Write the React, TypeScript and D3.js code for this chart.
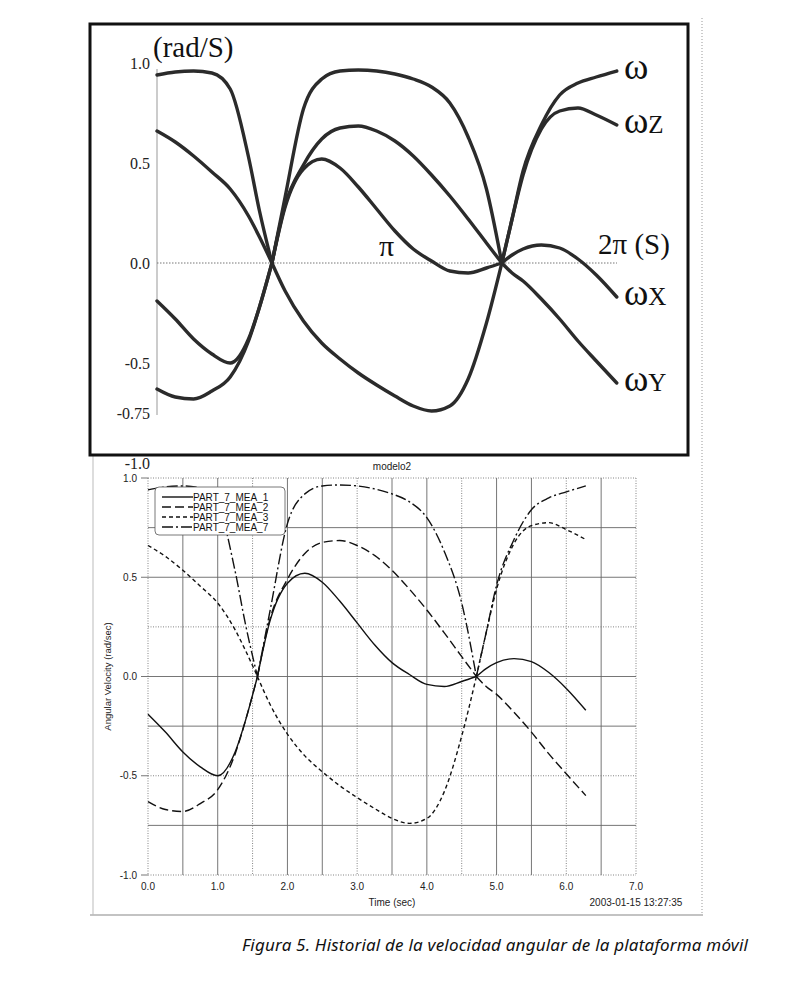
import { useEffect, useRef } from "react";
import * as d3 from "d3";

const WIDTH = 791;
const HEIGHT = 1001;

// time samples (sec), one period 0..2π
const TIME = [0, 0.25, 0.5, 0.75, 1.0, 1.25, 1.4, 1.57, 1.75, 2.0, 2.25, 2.5, 2.75, 3.0, 3.25, 3.5, 3.75, 4.0, 4.25, 4.5, 4.71, 4.85, 5.0, 5.25, 5.5, 5.75, 6.0, 6.28];
// crossing points where the curves get split (π/2, 3π/2)
const SPLIT_T = [1.57, 4.71];

const MEA_1 = [-0.19, -0.28, -0.38, -0.455, -0.5, -0.38, -0.22, 0.0, 0.28, 0.47, 0.52, 0.475, 0.38, 0.27, 0.16, 0.07, 0.01, -0.04, -0.05, -0.025, 0.0, 0.04, 0.07, 0.09, 0.075, 0.02, -0.06, -0.17];
const MEA_2 = [-0.63, -0.67, -0.68, -0.64, -0.57, -0.39, -0.22, 0.0, 0.29, 0.49, 0.62, 0.675, 0.685, 0.66, 0.61, 0.535, 0.44, 0.335, 0.22, 0.1, 0.0, -0.05, -0.09, -0.18, -0.28, -0.39, -0.49, -0.6];
const MEA_3 = [0.66, 0.605, 0.535, 0.455, 0.37, 0.235, 0.13, 0.0, -0.14, -0.29, -0.4, -0.48, -0.55, -0.61, -0.665, -0.715, -0.74, -0.715, -0.58, -0.3, 0.0, 0.22, 0.44, 0.67, 0.76, 0.775, 0.74, 0.69];
const MEA_7 = [0.94, 0.955, 0.96, 0.95, 0.87, 0.53, 0.26, 0.0, 0.33, 0.77, 0.92, 0.96, 0.965, 0.96, 0.945, 0.92, 0.88, 0.8, 0.63, 0.37, 0.0, 0.22, 0.46, 0.69, 0.84, 0.9, 0.93, 0.96];

const SERIES = [MEA_1, MEA_2, MEA_3, MEA_7];
const SERIES_NAMES = ["PART_7_MEA_1", "PART_7_MEA_2", "PART_7_MEA_3", "PART_7_MEA_7"];
const TOP_SUBS = ["X", "Y", "Z", ""];
const DASHES = ["", "9,4", "4,3", "11,3,2,3"];

const TOP_Y_TICKS = [1.0, 0.5, 0.0, -0.5, -0.75, -1.0];
const BOT_Y_TICKS = [1.0, 0.5, 0.0, -0.5, -1.0];
const BOT_X_TICKS = [0, 1, 2, 3, 4, 5, 6, 7];
const BOT_X_GRID = d3.range(0, 7.01, 0.5);
const BOT_Y_GRID = d3.range(1, -1.01, -0.25);

const CAPTION = "Figura 5. Historial de la velocidad angular de la plataforma móvil";
const STAMP = "2003-01-15 13:27:35";

const SERIF = "'Liberation Serif', 'DejaVu Serif', serif";
const SANS = "'Liberation Sans', Arial, sans-serif";

type Pt = [number, number];

const segments = (vals: number[]): Pt[][] => {
  const cuts = SPLIT_T.map((s) => TIME.indexOf(s));
  const bounds = [0, ...cuts, TIME.length - 1];
  const out: Pt[][] = [];
  for (let k = 0; k < bounds.length - 1; k++) {
    const seg: Pt[] = [];
    for (let i = bounds[k]; i <= bounds[k + 1]; i++) seg.push([TIME[i], vals[i]]);
    out.push(seg);
  }
  return out;
};

const App = () => {
  const svgRef = useRef<SVGSVGElement | null>(null);

  useEffect(() => {
    if (!svgRef.current) return;
    const svg = d3.select(svgRef.current);
    svg.selectAll("*").remove();
    svg.attr("width", WIDTH).attr("height", HEIGHT);

    svg.append("rect").attr("width", WIDTH).attr("height", HEIGHT).attr("fill", "#fff");

    // ---------- page frame of the lower plot ----------
    svg.append("line").attr("x1", 702).attr("x2", 702).attr("y1", 18).attr("y2", 915)
      .attr("stroke", "#999").attr("stroke-width", 1).attr("stroke-dasharray", "1,2");
    svg.append("line").attr("x1", 90).attr("x2", 703).attr("y1", 915).attr("y2", 915)
      .attr("stroke", "#888").attr("stroke-width", 1.2);
    svg.append("line").attr("x1", 93).attr("x2", 93).attr("y1", 456).attr("y2", 915)
      .attr("stroke", "#bbb").attr("stroke-width", 1);

    // ---------- top chart ----------
    const xTop = d3.scaleLinear().domain([0, 2 * Math.PI]).range([157, 617]);
    const yTop = d3.scaleLinear().domain([-1, 1]).range([463, 63]);

    const top = svg.append("g");
    top.append("line").attr("x1", xTop(0)).attr("x2", xTop(0))
      .attr("y1", yTop(0.97)).attr("y2", yTop(-0.76))
      .attr("stroke", "#999").attr("stroke-width", 1);
    top.append("line").attr("x1", xTop(0)).attr("x2", xTop(2 * Math.PI))
      .attr("y1", yTop(0)).attr("y2", yTop(0))
      .attr("stroke", "#777").attr("stroke-width", 1).attr("stroke-dasharray", "1.5,1.5");

    top.selectAll(".ytick").data(TOP_Y_TICKS).enter().append("text")
      .attr("x", 150).attr("y", (d) => yTop(d) + 6)
      .attr("text-anchor", "end").attr("font-family", SERIF).attr("font-size", 16)
      .attr("fill", "#222")
      .text((d) => (d === -0.75 ? "-0.75" : d.toFixed(1)));

    top.append("text").attr("x", 153).attr("y", 57).attr("font-family", SERIF)
      .attr("font-size", 29).attr("fill", "#111").text("(rad/S)");
    top.append("text").attr("x", xTop(Math.PI) - 8).attr("y", yTop(0) - 7).attr("font-family", SERIF)
      .attr("font-size", 30).attr("fill", "#111").text("π");
    top.append("text").attr("x", 598).attr("y", yTop(0) - 9).attr("font-family", SERIF)
      .attr("font-size", 29).attr("fill", "#111").text("2π (S)");

    const lineTop = d3.line<Pt>().x((d) => xTop(d[0])).y((d) => yTop(d[1])).curve(d3.curveMonotoneX);
    SERIES.forEach((vals, si) => {
      segments(vals).forEach((seg) => {
        top.append("path").attr("d", lineTop(seg) as string).attr("fill", "none")
          .attr("stroke", "#2b2b2b").attr("stroke-width", 3.4)
          .attr("stroke-linecap", "round").attr("stroke-linejoin", "round");
      });
      const t = top.append("text").attr("x", 624).attr("y", yTop(vals[vals.length - 1]) + 8)
        .attr("font-family", SERIF).attr("fill", "#111");
      t.append("tspan").attr("font-size", 37).text("ω");
      if (TOP_SUBS[si]) t.append("tspan").attr("font-size", 25).text(TOP_SUBS[si]);
    });

    top.append("rect").attr("x", 90).attr("y", 24).attr("width", 598).attr("height", 431)
      .attr("fill", "none").attr("stroke", "#111").attr("stroke-width", 3);

    // ---------- bottom chart ----------
    const xBot = d3.scaleLinear().domain([0, 7]).range([148, 636]);
    const yBot = d3.scaleLinear().domain([-1, 1]).range([875, 478]);
    const bot = svg.append("g");

    bot.selectAll(".vgrid").data(BOT_X_GRID).enter().append("line")
      .attr("x1", (d) => xBot(d)).attr("x2", (d) => xBot(d))
      .attr("y1", yBot(1)).attr("y2", yBot(-1))
      .attr("stroke", (_d, i) => (i % 3 === 0 || i === BOT_X_GRID.length - 1 ? "#777" : "#666"))
      .attr("stroke-width", 0.9)
      .attr("stroke-dasharray", (_d, i) => (i % 3 === 0 || i === BOT_X_GRID.length - 1 ? "1,1.5" : null));
    bot.selectAll(".hgrid").data(BOT_Y_GRID).enter().append("line")
      .attr("x1", xBot(0)).attr("x2", xBot(7))
      .attr("y1", (d) => yBot(d)).attr("y2", (d) => yBot(d))
      .attr("stroke", (_d, i) => (i % 3 === 0 || i === BOT_Y_GRID.length - 1 ? "#777" : "#666"))
      .attr("stroke-width", 0.9)
      .attr("stroke-dasharray", (_d, i) => (i % 3 === 0 || i === BOT_Y_GRID.length - 1 ? "1,1.5" : null));

    // ticks
    bot.selectAll(".ytk").data(BOT_Y_TICKS).enter().append("line")
      .attr("x1", 141).attr("x2", xBot(0)).attr("y1", (d) => yBot(d)).attr("y2", (d) => yBot(d))
      .attr("stroke", "#666").attr("stroke-width", 0.9);
    bot.selectAll(".ylab").data(BOT_Y_TICKS).enter().append("text")
      .attr("x", 137).attr("y", (d) => yBot(d) + 3.5).attr("text-anchor", "end")
      .attr("font-family", SANS).attr("font-size", 10).attr("fill", "#222")
      .text((d) => d.toFixed(1));
    bot.selectAll(".xlab").data(BOT_X_TICKS).enter().append("text")
      .attr("x", (d) => xBot(d)).attr("y", yBot(-1) + 15).attr("text-anchor", "middle")
      .attr("font-family", SANS).attr("font-size", 10).attr("fill", "#222")
      .text((d) => d.toFixed(1));

    bot.append("text").attr("x", xBot(3.5)).attr("y", yBot(-1) + 31).attr("text-anchor", "middle")
      .attr("font-family", SANS).attr("font-size", 10).attr("fill", "#222").text("Time (sec)");
    bot.append("text").attr("x", xBot(7)).attr("y", yBot(-1) + 31).attr("text-anchor", "middle")
      .attr("font-family", SANS).attr("font-size", 10).attr("fill", "#222").text(STAMP);
    bot.append("text").attr("x", xBot(3.5)).attr("y", 470).attr("text-anchor", "middle")
      .attr("font-family", SANS).attr("font-size", 10).attr("fill", "#222").text("modelo2");
    bot.append("text")
      .attr("transform", `translate(111, ${yBot(0)}) rotate(-90)`)
      .attr("text-anchor", "middle").attr("font-family", SANS).attr("font-size", 9.5)
      .attr("fill", "#222").text("Angular Velocity (rad/sec)");

    const lineBot = d3.line<Pt>().x((d) => xBot(d[0])).y((d) => yBot(d[1])).curve(d3.curveMonotoneX);
    SERIES.forEach((vals, si) => {
      segments(vals).forEach((seg) => {
        bot.append("path").attr("d", lineBot(seg) as string).attr("fill", "none")
          .attr("stroke", "#111").attr("stroke-width", 1.4)
          .attr("stroke-dasharray", DASHES[si] || null);
      });
    });

    // legend
    const lg = bot.append("g").attr("transform", "translate(155, 487)");
    lg.append("rect").attr("width", 130).attr("height", 48).attr("rx", 4)
      .attr("fill", "#fff").attr("stroke", "#555").attr("stroke-width", 0.8);
    SERIES_NAMES.forEach((name, i) => {
      const yy = 10 + i * 10;
      lg.append("line").attr("x1", 7).attr("x2", 38).attr("y1", yy).attr("y2", yy)
        .attr("stroke", "#111").attr("stroke-width", 1.4)
        .attr("stroke-dasharray", DASHES[i] || null);
      lg.append("text").attr("x", 38).attr("y", yy + 3.6)
        .attr("font-family", SANS).attr("font-size", 10).attr("fill", "#111").text(name);
    });

    // caption
    svg.append("text").attr("x", 242).attr("y", 951)
      .attr("font-family", "'Noto Sans', 'Open Sans', sans-serif").attr("font-style", "italic")
      .attr("font-size", 17).attr("textLength", 506).attr("lengthAdjust", "spacing")
      .attr("fill", "#111").text(CAPTION);
  }, []);

  return (
    <div style={{ position: "absolute", left: 0, top: 0 }}>
      <svg ref={svgRef} style={{ display: "block" }} />
    </div>
  );
};

export default App;
